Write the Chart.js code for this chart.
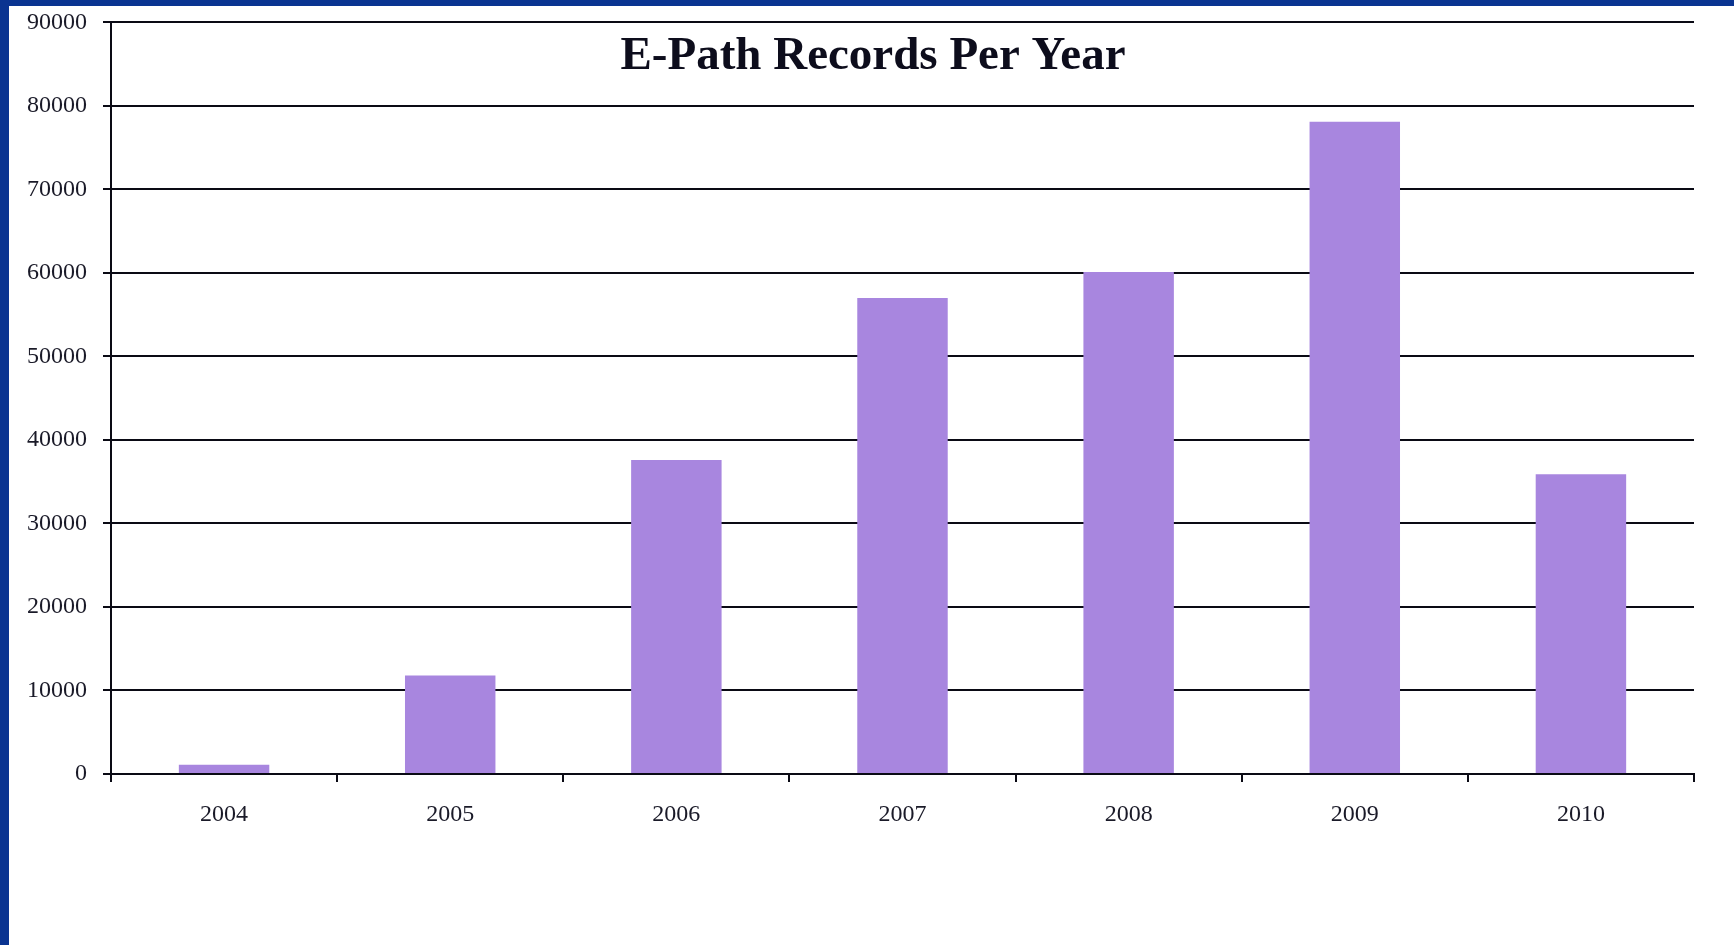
<!DOCTYPE html>
<html>
<head>
<meta charset="utf-8">
<script src="https://cdn.jsdelivr.net/npm/chart.js@4/dist/chart.umd.min.js"></script>
<style>
  html, body { margin: 0; padding: 0; background: #fff; }
  #frame {
    position: absolute; left: 0; top: 0; width: 1734px; height: 945px;
    box-sizing: border-box; border-left: 9px solid #0a3491; border-top: 6px solid #0a3491;
    background: #fff;
  }
  #wrap { position: absolute; left: 0; top: -14px; width: 1725px; height: 953px; }
</style>
</head>
<body>
<div id="frame"><div id="wrap"><canvas id="records_chart"></canvas></div></div>
<script>
var chartTitle = 'E-Path Records Per Year'
,   years = ['2004', '2005', '2006', '2007', '2008', '2009', '2010']
,   records = [1100, 11800, 37600, 57000, 60100, 78100, 35900]
,   yTicks = [0, 10000, 20000, 30000, 40000, 50000, 60000, 70000, 80000, 90000]
;

// title sits inside the plot area, near the page centre
var innerTitle = {
    id: 'innerTitle',
    afterDraw: function (chart) {
        var ctx = chart.ctx;
        ctx.save();
        ctx.font = 'bold 47px "Liberation Serif", "DejaVu Serif", serif';
        ctx.fillStyle = '#0d0d1c';
        ctx.textAlign = 'center';
        ctx.textBaseline = 'alphabetic';
        ctx.fillText(chartTitle, 1734 / 2 - 3, chart.chartArea.top + 47);
        ctx.restore();
    }
};

var tickFont = { family: '"Liberation Serif", "DejaVu Serif", serif', size: 24 };

new Chart(document.getElementById('records_chart'), {
    type: 'bar',
    data: {
        labels: years,
        datasets: [{
            data: records,
            backgroundColor: '#a886df',
            borderWidth: 0,
            barPercentage: 0.4,
            categoryPercentage: 1.0
        }]
    },
    options: {
        responsive: true,
        maintainAspectRatio: false,
        animation: false,
        layout: { padding: { top: 1, right: 40, left: 0, bottom: 0 } },
        plugins: {
            legend: { display: false },
            title: { display: false },
            tooltip: { enabled: false }
        },
        scales: {
            x: {
                offset: true,
                grid: {
                    offset: true,
                    drawOnChartArea: false,
                    drawTicks: true,
                    tickLength: 8,
                    color: '#0a0a14',
                    lineWidth: 2
                },
                border: { display: true, color: '#0a0a14', width: 2 },
                ticks: { font: tickFont, color: '#1a1a28', padding: 18, maxRotation: 0 },
                afterFit: function (scale) { scale.height = 171; }
            },
            y: {
                min: 0,
                max: 90000,
                afterBuildTicks: function (scale) {
                    scale.ticks = yTicks.map(function (v) { return { value: v }; });
                },
                grid: {
                    color: '#0a0a14',
                    lineWidth: 2,
                    tickLength: 8
                },
                border: { display: true, color: '#0a0a14', width: 2 },
                ticks: {
                    font: tickFont,
                    color: '#1a1a28',
                    padding: 16,
                    callback: function (v) { return String(v); }
                },
                afterFit: function (scale) { scale.width = 102; }
            }
        }
    },
    plugins: [innerTitle]
});
</script>
</body>
</html>
